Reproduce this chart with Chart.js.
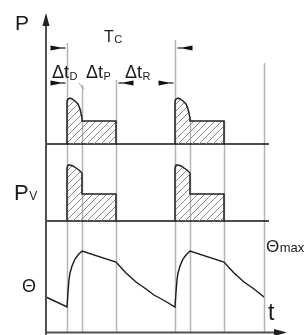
<!DOCTYPE html>
<html>
<head>
<meta charset="utf-8">
<script src="https://cdn.jsdelivr.net/npm/chart.js@4.4.1/dist/chart.umd.min.js"></script>
<style>
  html, body { margin: 0; padding: 0; background: #fff; }
  #wrap { width: 308px; height: 335px; position: relative; }
</style>
</head>
<body>
<div id="wrap"><canvas id="diagram"></canvas></div>
<script>
// time axis: 0 = vertical axis, event instants of the two cycles
const times = [21, 36, 70, 129, 144, 178, 218];
const lineTops = [289, 247, 252, 292, 214, 211, 269];
const pulseStarts = [21, 129];

// panel baselines (value units, 0 = time axis)
const pBase = 188;
const pvBase = 111;
const baseEnd = 223;

// power pulse P (relative to pulse start)
const pShapeT = [0, 0, 1, 3, 5, 8, 11, 13, 14, 15, 15, 49, 49];
const pShapeV = [0, 43, 45, 46, 45, 43, 40, 35, 31, 26, 23, 23, 0];

// power loss Pv
const pvShapeT = [0, 0, 1, 3, 6, 9, 12, 15, 15, 49, 49];
const pvShapeV = [0, 53, 56, 56, 55, 53, 51, 48, 27, 27, 0];

// temperature Θ
const thetaT = [0, 21, 22, 23, 24, 26, 29, 32, 36, 70, 80, 90, 100, 108, 119, 129,
                130, 131, 132, 134, 137, 140, 144, 178, 188, 198, 208, 218];
const thetaV = [35, 25, 40, 52, 59, 66, 73, 77, 81, 70, 59, 50, 43, 37, 31, 25,
                40, 52, 59, 66, 73, 77, 81, 70, 59, 50, 43, 35];

// dimension markers: [line time, side, height]
const markers = [[21, -1, 284], [129, 1, 284], [21, -1, 249], [70, 1, 249], [129, -1, 249]];

const FONT = '"Liberation Sans", Arial, sans-serif';

function makeHatch() {
    const c = document.createElement('canvas');
    c.width = 7; c.height = 7;
    const g = c.getContext('2d');
    g.strokeStyle = '#8a8a8a';
    g.lineWidth = 1;
    g.beginPath();
    g.moveTo(0, 7); g.lineTo(7, 0);
    g.moveTo(-1, 1); g.lineTo(1, -1);
    g.moveTo(6, 8); g.lineTo(8, 6);
    g.stroke();
    return document.getElementById('diagram').getContext('2d').createPattern(c, 'repeat');
}
const hatch = makeHatch();

function shape(start, ts, vs, base) {
    return ts.map((t, i) => ({ x: start + t, y: base + vs[i] }));
}

const datasets = [];
pulseStarts.forEach((s) => {
    datasets.push({
        data: shape(s, pShapeT, pShapeV, pBase),
        borderColor: '#222', borderWidth: 1.5,
        backgroundColor: hatch, fill: { value: pBase },
    });
    datasets.push({
        data: shape(s, pvShapeT, pvShapeV, pvBase),
        borderColor: '#222', borderWidth: 1.5,
        backgroundColor: hatch, fill: { value: pvBase },
    });
});
datasets.push({
    data: thetaT.map((t, i) => ({ x: t, y: thetaV[i] })),
    borderColor: '#1a1a1a', borderWidth: 1.4, fill: false,
});
[pBase, pvBase].forEach((b) => {
    datasets.push({
        data: [{ x: 0, y: b }, { x: baseEnd, y: b }],
        borderColor: '#111', borderWidth: 1.5, fill: false,
    });
});

function subText(ctx, main, sub, x, y, size, subSize, dy) {
    ctx.font = size + 'px ' + FONT;
    ctx.fillText(main, x, y);
    const w = ctx.measureText(main).width;
    ctx.font = subSize + 'px ' + FONT;
    ctx.fillText(sub, x + w + 0.5, y + dy);
}

const decor = {
    id: 'decor',
    beforeDatasetsDraw(chart) {
        const ctx = chart.ctx;
        const sx = (v) => chart.scales.x.getPixelForValue(v);
        const sy = (v) => chart.scales.y.getPixelForValue(v);
        ctx.save();
        ctx.strokeStyle = '#b4b4b4';
        ctx.lineWidth = 1.5;
        times.forEach((t, i) => {
            ctx.beginPath();
            ctx.moveTo(Math.round(sx(t)) + 0.5, sy(lineTops[i]));
            ctx.lineTo(Math.round(sx(t)) + 0.5, sy(0));
            ctx.stroke();
        });
        // leader under Δt_D
        ctx.lineWidth = 1;
        ctx.strokeStyle = '#999';
        ctx.beginPath();
        ctx.moveTo(sx(33), sy(249));
        ctx.lineTo(sx(38), sy(243));
        ctx.stroke();
        ctx.restore();
    },
    afterDraw(chart) {
        const ctx = chart.ctx;
        const sx = (v) => chart.scales.x.getPixelForValue(v);
        const sy = (v) => chart.scales.y.getPixelForValue(v);
        ctx.save();
        // axes
        const x0 = sx(0), y0 = sy(0);
        ctx.strokeStyle = '#505050';
        ctx.fillStyle = '#222';
        ctx.lineWidth = 2;
        ctx.beginPath();
        ctx.moveTo(x0, y0 + 3); ctx.lineTo(x0, sy(312));
        ctx.moveTo(x0, y0 + 0.5); ctx.lineTo(sx(232), y0 + 0.5);
        ctx.stroke();
        ctx.beginPath();
        ctx.moveTo(x0, sy(319)); ctx.lineTo(x0 - 3.5, sy(306)); ctx.lineTo(x0 + 3.5, sy(306));
        ctx.closePath(); ctx.fill();
        ctx.beginPath();
        ctx.moveTo(sx(241), y0 + 0.5); ctx.lineTo(sx(228), y0 - 3); ctx.lineTo(sx(228), y0 + 4);
        ctx.closePath(); ctx.fill();

        // dimension markers
        ctx.lineWidth = 1.2;
        ctx.strokeStyle = '#111';
        ctx.fillStyle = '#111';
        markers.forEach(([t, side, h]) => {
            const lx = Math.round(sx(t)) + 0.5, y = sy(h);
            ctx.beginPath();
            ctx.moveTo(lx + side * 2, y); ctx.lineTo(lx + side * 9, y);
            ctx.stroke();
            ctx.beginPath();
            ctx.moveTo(lx + side * 8, y - 0.8);
            ctx.lineTo(lx + side * 17, y - 2.6);
            ctx.lineTo(lx + side * 17, y + 2.6);
            ctx.lineTo(lx + side * 8, y + 0.8);
            ctx.closePath(); ctx.fill();
        });

        // labels
        ctx.fillStyle = '#1a1a1a';
        ctx.textBaseline = 'alphabetic';
        ctx.font = '21px ' + FONT;
        ctx.fillText('P', 15, 30);
        subText(ctx, 'T', 'C', 104, 42, 16, 11, 1);
        subText(ctx, 'Δt', 'D', 52, 78, 18, 11, 2);
        subText(ctx, 'Δt', 'P', 86, 78, 18, 11, 2);
        subText(ctx, 'Δt', 'R', 125, 78, 18, 11, 2);
        subText(ctx, 'P', 'V', 14, 200, 22, 12, 0);
        ctx.font = '18px ' + FONT;
        ctx.fillText('Θ', 22, 292);
        subText(ctx, 'Θ', 'max', 266, 252, 17, 13, 0);
        ctx.font = '23px ' + FONT;
        ctx.fillText('t', 268, 320);
        ctx.restore();
    },
};

new Chart(document.getElementById('diagram'), {
    type: 'line',
    data: { datasets: datasets },
    options: {
        responsive: true,
        maintainAspectRatio: false,
        animation: false,
        layout: { padding: 0 },
        elements: { point: { radius: 0 }, line: { tension: 0 } },
        plugins: { legend: { display: false }, tooltip: { enabled: false }, title: { display: false } },
        scales: {
            x: { type: 'linear', min: -46, max: 262, display: false },
            y: { type: 'linear', min: -3, max: 332, display: false },
        },
    },
    plugins: [decor],
});
</script>
</body>
</html>
